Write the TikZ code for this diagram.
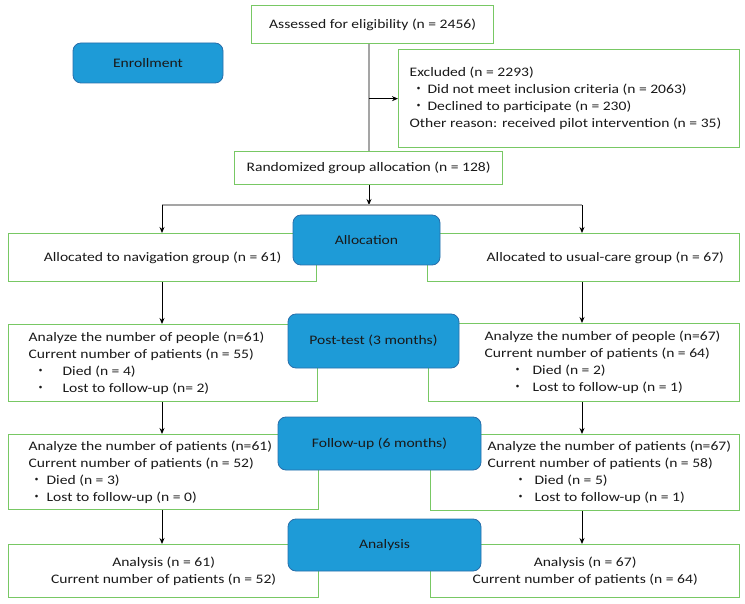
\documentclass[tikz,border=0pt]{standalone}
\usepackage{fontspec}
\setmainfont{Carlito}[FakeStretch=1.2]
\newfontfamily\cjk{Noto Sans CJK JP}
\usetikzlibrary{arrows.meta}
\definecolor{gc}{RGB}{120,200,100}
\definecolor{bfill}{RGB}{30,155,215}
\definecolor{bdraw}{RGB}{40,110,170}
\definecolor{lg}{RGB}{165,165,165}
\definecolor{tc}{RGB}{25,25,25}
\newcommand\boxtxt[3]{\makebox[#1][l]{\hspace*{#2}\begin{tabular}{@{}l@{}}#3\end{tabular}}}
\newcommand\ctxt[2]{\makebox[#1][c]{\begin{tabular}{@{}c@{}}#2\end{tabular}}}
\newcommand\bul[3]{\makebox[#2][l]{\hspace*{#1}\makebox[0pt]{\cjk ・}}#3}
\begin{document}
\begin{tikzpicture}[x=1pt,y=-1pt,font=\fontsize{13}{17}\selectfont,
 gbox/.style={draw=gc,line width=1.3pt,fill=white,inner sep=0pt,anchor=north west,text=tc},
 bbox/.style={draw=bdraw,line width=0.8pt,fill=bfill,rounded corners=8pt,inner sep=0pt,text=tc},
 arr/.style={-{Stealth[length=6pt,width=5pt]},line width=0.9pt,black},
 gline/.style={draw=lg,line width=1.2pt}]
\useasboundingbox (0,0) rectangle (745,604);
% coordinates for connector columns
\coordinate (vx) at (369,0);
\coordinate (xl) at (162,0);
\coordinate (xr) at (582,0);
\coordinate (split) at (369,205);
% white boxes
\node[gbox,minimum height=38pt] (ass) at (251,5) {\ctxt{242pt}{Assessed for eligibility (n = 2456)}};
\node[gbox,minimum height=98pt] (exc) at (398,49) {\boxtxt{341pt}{11pt}{Excluded (n = 2293)\\
\bul{9pt}{18pt}{Did not meet inclusion criteria (n = 2063)}\\
\bul{9pt}{18pt}{Declined to participate (n = 230)}\\
Other reason: received pilot intervention (n = 35)}};
\node[gbox,minimum height=33pt] (rand) at (234,151) {\ctxt{268pt}{Randomized group allocation (n = 128)}};
\node[gbox,minimum height=48pt] (lal) at (8,233) {\ctxt{308pt}{Allocated to navigation group (n = 61)}};
\node[gbox,minimum height=48pt] (ral) at (427,233) {\boxtxt{312pt}{59pt}{Allocated to usual-care group (n = 67)}};
\node[gbox,minimum height=77pt] (lp) at (8,324) {\boxtxt{309pt}{20pt}{Analyze the number of people (n=61)\\
Current number of patients (n = 55)\\
\bul{12pt}{34pt}{Died (n = 4)}\\
\bul{12pt}{34pt}{Lost to follow-up (n= 2)}}};
\node[gbox,minimum height=78pt] (rp) at (428,323) {\boxtxt{311pt}{56pt}{Analyze the number of people (n=67)\\
Current number of patients (n = 64)\\
\bul{33pt}{48pt}{Died (n = 2)}\\
\bul{33pt}{48pt}{Lost to follow-up (n = 1)}}};
\node[gbox,minimum height=75pt] (lf) at (8,434) {\boxtxt{310pt}{20pt}{Analyze the number of patients (n=61)\\
Current number of patients (n = 52)\\
\bul{8pt}{18pt}{Died (n = 3)}\\
\bul{8pt}{18pt}{Lost to follow-up (n = 0)}}};
\node[gbox,minimum height=76pt] (rf) at (430,434) {\boxtxt{309pt}{57pt}{Analyze the number of patients (n=67)\\
Current number of patients (n = 58)\\
\bul{33pt}{47pt}{Died (n = 5)}\\
\bul{33pt}{47pt}{Lost to follow-up (n = 1)}}};
\node[gbox,minimum height=53pt] (la) at (8,544) {\ctxt{310pt}{Analysis (n = 61)\\Current number of patients (n = 52)}};
\node[gbox,minimum height=53pt] (ra) at (430,544) {\ctxt{309pt}{Analysis (n = 67)\\Current number of patients (n = 64)}};
% connectors
\draw[gline] (ass.south -| vx) -- (rand.north -| vx);
\draw[arr] (exc.west -| vx) -- (exc.west);
\draw[arr] (rand.south -| vx) -- (split);
\draw[gline] (split -| xl) -- (split -| xr);
\draw[arr] (split -| xl) -- (lal.north -| xl);
\draw[arr] (split -| xr) -- (ral.north -| xr);
\draw[arr] (lal.south -| xl) -- (lp.north -| xl);
\draw[arr] (ral.south -| xr) -- (rp.north -| xr);
\draw[arr] (lp.south -| xl) -- (lf.north -| xl);
\draw[arr] (rp.south -| xr) -- (rf.north -| xr);
\draw[arr] (lf.south -| xl) -- (la.north -| xl);
\draw[arr] (rf.south -| xr) -- (ra.north -| xr);
% blue stage boxes
\node[bbox,minimum width=150pt,minimum height=40pt] (enr) at (148,63) {Enrollment};
\node[bbox,minimum width=147pt,minimum height=50pt] (alloc) at (366.5,240) {Allocation};
\node[bbox,minimum width=171pt,minimum height=54pt] (post) at (373.5,341) {Post-test (3 months)};
\node[bbox,minimum width=203pt,minimum height=53pt] (fol) at (379.5,443.5) {Follow-up (6 months)};
\node[bbox,minimum width=193pt,minimum height=52pt] (ana) at (384.5,545) {Analysis};
\end{tikzpicture}
\end{document}
